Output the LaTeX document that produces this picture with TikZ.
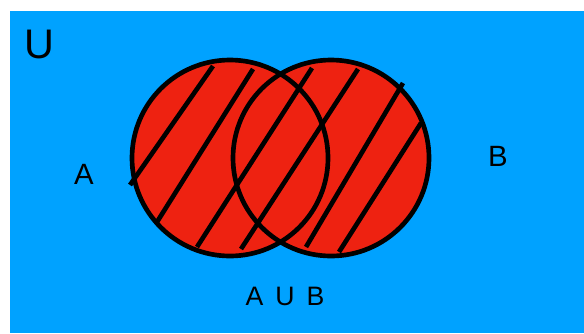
\documentclass[tikz,border=0pt]{standalone}
\usepackage{fontspec}
\setmainfont{Liberation Sans}
\usetikzlibrary{backgrounds}
\definecolor{univblue}{HTML}{00A2FF}
\definecolor{setred}{HTML}{EE2211}

\begin{document}
\begin{tikzpicture}[x=0.75pt,y=-0.75pt,
 venn/.style={draw,circle,line width=3.5pt,minimum size=147pt,inner sep=0pt},
 hatch/.style={line width=3.5pt},
 lbl/.style={inner sep=0pt,text=black}]
\useasboundingbox (0,0) rectangle (584,333);
\node[venn] (setA) at (230,158) {};
\node[venn] (setB) at (331,158) {};
\begin{scope}[on background layer]
\fill[white] (0,0) rectangle (584,333);
\fill[univblue] (10,11) rectangle (584,333);
\fill[setred] (setA.center) circle[radius=98];
\fill[setred] (setB.center) circle[radius=98];
\end{scope}
% hatching of the union
\draw[hatch] (130,185)--(213,66);
\draw[hatch] (157,222)--(253,69);
\draw[hatch] (197,247)--(312,68);
\draw[hatch] (241,249)--(358,69);
\draw[hatch] (306,247)--(403,83);
\draw[hatch] (339,252)--(421,123);
\node[lbl,font=\fontsize{31}{31}\selectfont] (u) at (39,44) {U};
\node[lbl,font=\fontsize{22}{22}\selectfont] (la) at (84,174) {A};
\node[lbl,font=\fontsize{22}{22}\selectfont] (lb) at (498,156) {B};
\node[lbl,font=\fontsize{20}{20}\selectfont] (lu) at (285,296) {A\hspace{0.45em}U\hspace{0.45em}B};
\end{tikzpicture}
\end{document}
